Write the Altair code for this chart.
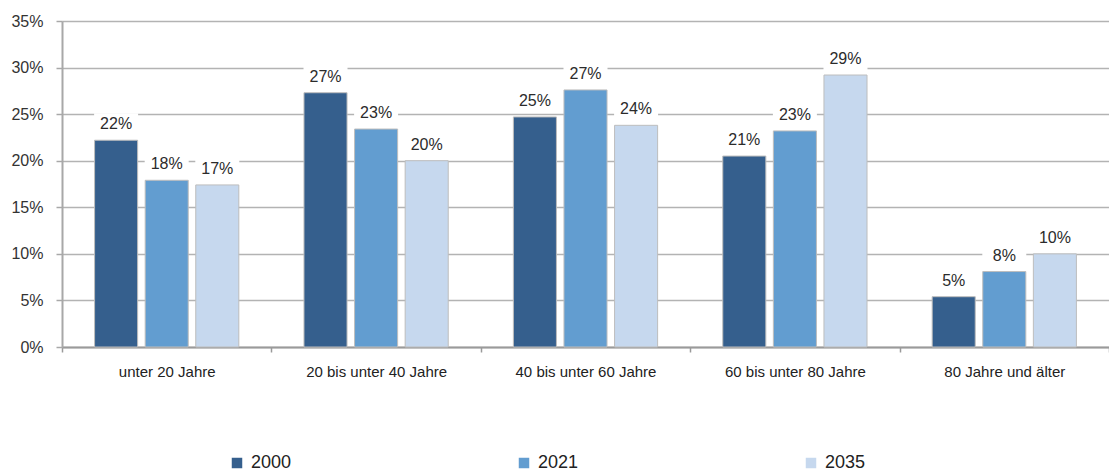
import altair as alt
import pandas as pd

categories = ["unter 20 Jahre", "20 bis unter 40 Jahre", "40 bis unter 60 Jahre",
              "60 bis unter 80 Jahre", "80 Jahre und älter"]
years = ["2000", "2021", "2035"]
v2000 = [22.2, 27.3, 24.7, 20.5, 5.4]
v2021 = [17.9, 23.4, 27.6, 23.2, 8.1]
v2035 = [17.4, 20.0, 23.8, 29.2, 10.0]
l2000 = ["22%", "27%", "25%", "21%", "5%"]
l2021 = ["18%", "23%", "27%", "23%", "8%"]
l2035 = ["17%", "20%", "24%", "29%", "10%"]
colors = ["#355f8d", "#629dd0", "#c6d8ee"]

rows = []
for yr, vals, labs in zip(years, [v2000, v2021, v2035], [l2000, l2021, l2035]):
    for c, v, l in zip(categories, vals, labs):
        rows.append({"cat": c, "year": yr, "value": v, "label": l})
df = pd.DataFrame(rows)

FONT = "Liberation Sans"

x = alt.X("cat:N", sort=categories, title=None,
          scale=alt.Scale(paddingInner=0, paddingOuter=0),
          axis=alt.Axis(labelAngle=0, labelFontSize=15, labelColor="#222222",
                        labelFont=FONT, labelPadding=12, tickBand="extent",
                        ticks=True, tickSize=5, tickColor="#9a9a9a", tickWidth=1.5,
                        domainColor="#9a9a9a", domainWidth=2, grid=False))
xo = alt.XOffset("year:N", sort=years,
                 scale=alt.Scale(paddingInner=0.149, paddingOuter=0.644))
y = alt.Y("value:Q", title=None,
          scale=alt.Scale(domain=[0, 35], nice=False),
          axis=alt.Axis(values=[0, 5, 10, 15, 20, 25, 30, 35],
                        labelExpr="datum.value + '%'",
                        labelFontSize=16, labelColor="#333333", labelFont=FONT,
                        labelPadding=13, tickSize=6, tickColor="#a8a8a8", tickWidth=1.5,
                        domainColor="#a8a8a8", domainWidth=2,
                        grid=True, gridColor="#b3b3b3", gridWidth=1.5))

base = alt.Chart(df)

boxes = base.mark_point(
    shape="M-1,-0.5H1V0.5H-1Z", filled=True, fill="white", opacity=1,
    size=1936, yOffset=-16, strokeWidth=0
).encode(x=x, xOffset=xo, y=y)

bars = base.mark_bar(stroke="#bdbdbd", strokeWidth=1).encode(
    x=x, xOffset=xo, y=y,
    color=alt.Color("year:N", sort=years,
                    scale=alt.Scale(domain=years, range=colors),
                    legend=alt.Legend(orient="none", legendX=166, legendY=433,
                                      direction="horizontal", columns=3,
                                      columnPadding=223, symbolType="square",
                                      symbolSize=110, symbolStrokeWidth=0,
                                      labelFontSize=18, labelFont=FONT,
                                      labelColor="#222222", labelOffset=5,
                                      title=None, padding=0))
)

texts = base.mark_text(dy=-16, fontSize=16, font=FONT, color="#2b2b2b").encode(
    x=x, xOffset=xo, y=y, text="label:N"
)

chart = alt.layer(boxes, bars, texts).properties(
    width=1047, height=326,
    autosize=alt.AutoSizeParams(type="none"),
    padding={"left": 54, "top": 13, "right": 0, "bottom": 124}
).configure_view(stroke=None).configure(background="white")

chart.save("out.html", embed_options={"renderer": "svg", "actions": False})
